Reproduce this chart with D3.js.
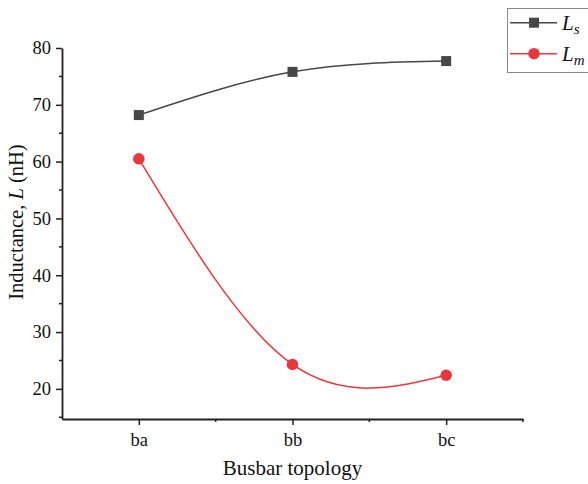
<!DOCTYPE html>
<html>
<head>
<meta charset="utf-8">
<script src="https://cdn.jsdelivr.net/npm/d3@7"></script>
<style>
  body { margin: 0; background: #fff; }
  svg text { font-family: "Liberation Serif", "Times New Roman", serif; }
</style>
</head>
<body>
<div id="chart"></div>
<script>
// data
const topologies = ['ba', 'bb', 'bc']
const ls = [68.2, 75.8, 77.7]
const lm = [60.5, 24.3, 22.4]
const yTicks = [20, 30, 40, 50, 60, 70, 80]
const yMinor = [15, 25, 35, 45, 55, 65, 75]

const width = 588, height = 484
const margin = {top: 48, bottom: 65, left: 62, right: 65}

const svg = d3.select('#chart').append('svg')
    .attr('width', width)
    .attr('height', height)

// categories sit at 1,2,3 with half a step of padding each side
const x = d3.scaleLinear()
    .domain([0.5, topologies.length + 0.5])
    .range([margin.left, width - margin.right])

const y = d3.scaleLinear()
    .domain([14.7, 80])
    .range([height - margin.bottom, margin.top])

// x axis
const xAxis = svg.append('g')
    .attr('transform', `translate(0,${height - margin.bottom})`)
    .call(d3.axisBottom(x)
        .tickValues(topologies.map((d, i) => i + 1))
        .tickFormat((d) => topologies[d - 1])
        .tickSizeInner(6).tickSizeOuter(0).tickPadding(8))
xAxis.append('g').selectAll('line')
    .data(d3.range(1, topologies.length).map(i => i + 0.5))
    .join('line')
    .attr('x1', d => x(d)).attr('x2', d => x(d))
    .attr('y1', 0).attr('y2', 3)
    .attr('stroke', '#222').attr('stroke-width', 1.5)
xAxis.append('line')
    .attr('x1', x.range()[1]).attr('x2', x.range()[1])
    .attr('y1', 0).attr('y2', 3)
    .attr('stroke', '#222').attr('stroke-width', 1.5)

// y axis
const yAxis = svg.append('g')
    .attr('transform', `translate(${margin.left},0)`)
    .call(d3.axisLeft(y)
        .tickValues(yTicks)
        .tickSizeInner(6).tickSizeOuter(0).tickPadding(5))
yAxis.append('g').selectAll('line')
    .data(yMinor)
    .join('line')
    .attr('y1', d => y(d)).attr('y2', d => y(d))
    .attr('x1', 0).attr('x2', -3)
    .attr('stroke', '#222').attr('stroke-width', 1.5)

// axis styling, serif like the original
xAxis.attr('font-family', '"Liberation Serif", serif').attr('font-size', 18.5)
yAxis.attr('font-family', '"Liberation Serif", serif').attr('font-size', 18.5)
svg.selectAll('.domain').attr('stroke', '#222').attr('stroke-width', 1.8)
svg.selectAll('.tick line').attr('stroke', '#222').attr('stroke-width', 1.5)
svg.selectAll('.tick text').attr('fill', '#111')

// axis titles
svg.append('text')
    .attr('x', x(2))
    .attr('y', 475)
    .attr('text-anchor', 'middle')
    .attr('font-size', 21)
    .attr('fill', '#111')
    .text('Busbar topology')

const yTitle = svg.append('text')
    .attr('transform', `translate(23,222) rotate(-90)`)
    .attr('text-anchor', 'middle')
    .attr('font-size', 20.5)
    .attr('fill', '#111')
yTitle.append('tspan').text('Inductance, ')
yTitle.append('tspan').attr('font-style', 'italic').text('L')
yTitle.append('tspan').text(' (nH)')

// series
const series = [
    {name: 'L', sub: 's', values: ls, color: '#474747', marker: 'square'},
    {name: 'L', sub: 'm', values: lm, color: '#e8383d', marker: 'circle'}
]

const line = d3.line()
    .x((d, i) => x(i + 1))
    .y(d => y(d))
    .curve(d3.curveNatural)

function drawMarker(g, kind, color) {
    if (kind === 'square') {
        g.append('rect')
            .attr('x', -5).attr('y', -5)
            .attr('width', 10).attr('height', 10)
            .attr('fill', color)
    } else {
        g.append('circle')
            .attr('r', 5.8)
            .attr('fill', color)
    }
}

series.forEach(s => {
    svg.append('path')
        .datum(s.values)
        .attr('d', line)
        .attr('fill', 'none')
        .attr('stroke', s.color)
        .attr('stroke-width', 1.5)

    svg.append('g').selectAll('g')
        .data(s.values)
        .join('g')
        .attr('transform', (d, i) => `translate(${x(i + 1)},${y(d)})`)
        .each(function() { drawMarker(d3.select(this), s.marker, s.color) })
})

// legend
const legend = svg.append('g')
legend.append('rect')
    .attr('x', 507.5).attr('y', 8.5)
    .attr('width', 90).attr('height', 64)
    .attr('fill', '#fff')
    .attr('stroke', '#8a8a8a')
    .attr('stroke-width', 1)

series.forEach((s, i) => {
    const ly = 22.7 + i * 31
    const row = legend.append('g')
    row.append('line')
        .attr('x1', 510).attr('x2', 557)
        .attr('y1', ly).attr('y2', ly)
        .attr('stroke', s.color)
        .attr('stroke-width', 1.5)
    drawMarker(row.append('g').attr('transform', `translate(534,${ly})`), s.marker, s.color)
    const t = row.append('text')
        .attr('x', 562)
        .attr('y', ly + 7)
        .attr('font-size', 21)
        .attr('font-style', 'italic')
        .attr('fill', '#111')
    t.append('tspan').text(s.name)
    t.append('tspan').attr('font-size', 15).attr('dy', 4).text(s.sub)
})
</script>
</body>
</html>
